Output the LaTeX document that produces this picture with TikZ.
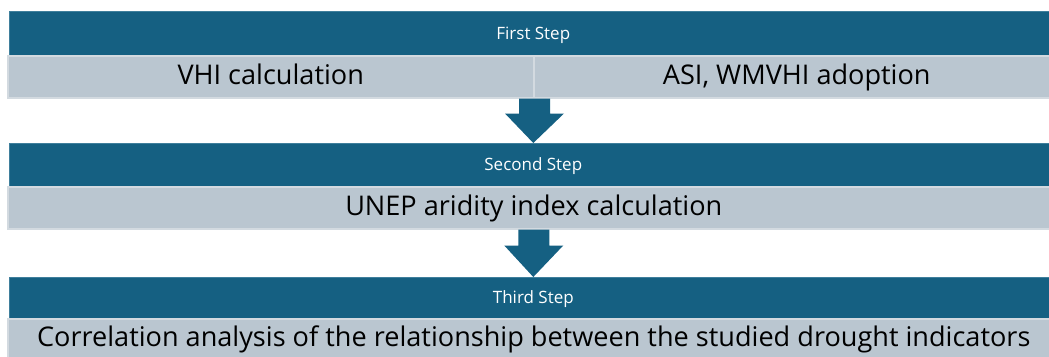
\documentclass[tikz,border=0pt]{standalone}
\usepackage{fontspec}
\setmainfont{Open Sans}
\usetikzlibrary{calc}
\definecolor{stepteal}{HTML}{156082}
\definecolor{stepedge}{HTML}{3F7F9C}
\definecolor{cellfill}{HTML}{BAC6D0}
\definecolor{celledge}{HTML}{D3DAE0}
\tikzset{
  header/.style={fill=stepteal, draw=stepedge, line width=0.6pt, anchor=north west,
    inner sep=0pt, minimum width=1048pt, text=white,
    font=\fontsize{17}{20}\selectfont, text height=12.2pt, text depth=0pt},
  cell/.style={fill=cellfill, draw=celledge, line width=1.5pt, anchor=north west,
    inner sep=0pt, text=black,
    font=\fontsize{27.1}{32}\selectfont, text height=19.4pt, text depth=3pt},
  downarrow/.style={fill=stepteal, draw=none}
}
\begin{document}
\begin{tikzpicture}[x=1pt, y=-1pt]
  \useasboundingbox (0,0) rectangle (1049,356);
  \clip (0,0) rectangle (1049,356);
  \fill[white] (0,0) rectangle (1049,356);

  % first step
  \node[header, minimum height=44pt] (h1) at (9,11) {First Step};
  \node[cell, minimum width=526pt, minimum height=42pt] (c1a) at (7,55) {VHI calculation};
  \node[cell, minimum width=526pt, minimum height=42pt] (c1b) at (533,55) {ASI, WMVHI adoption};

  % second step
  \node[header, minimum height=43pt] (h2) at (9,143) {Second Step};
  \node[cell, minimum width=1052pt, minimum height=42pt] (c2) at (7,186) {UNEP aridity index calculation};

  % third step
  \node[header, minimum height=41pt] (h3) at (9,277) {Third Step};
  \node[cell, minimum width=1052pt, minimum height=40pt] (c3) at (7,318) {Correlation analysis of the relationship between the studied drought indicators};

  % block arrows between the steps
  \fill[downarrow]
    ($(c1a.south east)+(-15.5,0)$) -- ($(c1a.south east)+(15.5,0)$)
    -- ($(c1a.south east)+(15.5,15)$) -- ($(c1a.south east)+(29.5,15)$)
    -- (h2.north) -- ($(c1a.south east)+(-29.5,15)$)
    -- ($(c1a.south east)+(-15.5,15)$) -- cycle;
  \fill[downarrow]
    ($(c2.south)+(-15.5,0)$) -- ($(c2.south)+(15.5,0)$)
    -- ($(c2.south)+(15.5,16)$) -- ($(c2.south)+(29.5,16)$)
    -- (h3.north) -- ($(c2.south)+(-29.5,16)$)
    -- ($(c2.south)+(-15.5,16)$) -- cycle;
\end{tikzpicture}
\end{document}
